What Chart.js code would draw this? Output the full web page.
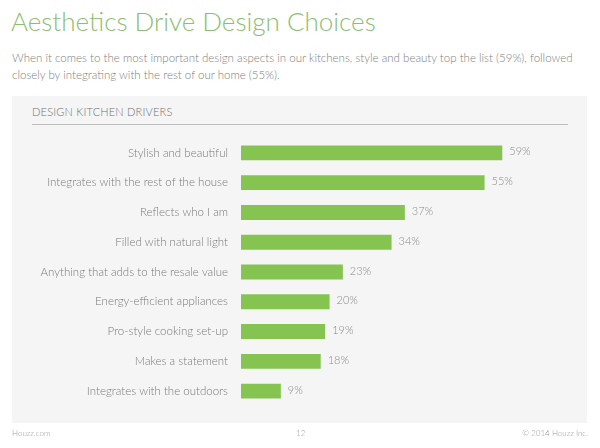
<!DOCTYPE html>
<html><head><meta charset="utf-8">
<script src="https://cdn.jsdelivr.net/npm/chart.js@4.4.0/dist/chart.umd.min.js"></script>
<style>
html,body{margin:0;padding:0;background:#fff;width:600px;height:448px;overflow:hidden;font-family:Lato,"Open Sans",sans-serif;}
#title{position:absolute;left:11px;top:5px;font-size:26px;font-weight:300;color:#8cc070;white-space:nowrap;}
#sub{position:absolute;left:12px;top:49px;width:575px;font-size:11.5px;line-height:17px;color:#808080;font-weight:300;}
#panel{position:absolute;left:12px;top:96px;width:575px;height:327px;background:#f5f5f5;}
#ptitle{position:absolute;left:32px;top:105px;font-size:11px;color:#707070;letter-spacing:0.2px;font-weight:300;}
#pline{position:absolute;left:32px;top:124px;width:536px;height:1px;background:#bdbdbd;}
#c{position:absolute;left:0;top:0;}
.foot{position:absolute;top:428px;font-size:8px;color:#9a9a9a;font-weight:300;}
</style></head>
<body>
<div id="title">Aesthetics Drive Design Choices</div>
<div id="sub">When it comes to the most important design aspects in our kitchens, style and beauty top the list (59%), followed<br>closely by integrating with the rest of our home (55%).</div>
<div id="panel"></div>
<div id="ptitle">DESIGN KITCHEN DRIVERS</div>
<div id="pline"></div>
<canvas id="c" width="600" height="448"></canvas>
<div class="foot" style="left:12px">Houzz.com</div>
<div class="foot" style="left:296px">12</div>
<div class="foot" style="right:12px">© 2014 Houzz Inc.</div>
<script>
const categories = ["Stylish and beautiful","Integrates with the rest of the house","Reflects who I am","Filled with natural light","Anything that adds to the resale value","Energy-efficient appliances","Pro-style cooking set-up","Makes a statement","Integrates with the outdoors"];
const values = [59,55,37,34,23,20,19,18,9];
const valueLabels = values.map(v => v + "%");

const labelPlugin = {
  id: 'vlabels',
  afterDatasetsDraw(chart) {
    const ctx = chart.ctx;
    const meta = chart.getDatasetMeta(0);
    ctx.save();
    ctx.font = '300 11px Lato, "Open Sans", sans-serif';
    ctx.fillStyle = '#8a8a8a';
    ctx.textAlign = 'left';
    ctx.textBaseline = 'middle';
    meta.data.forEach((bar, i) => {
      ctx.fillText(valueLabels[i], bar.x + 7, bar.y - 1);
    });
    ctx.restore();
  }
};

new Chart(document.getElementById('c'), {
  type: 'bar',
  data: {
    labels: categories,
    datasets: [{
      data: values,
      backgroundColor: '#86c452',
      borderWidth: 0,
      barPercentage: 0.5,
      categoryPercentage: 1.0
    }]
  },
  options: {
    indexAxis: 'y',
    responsive: false,
    animation: false,
    devicePixelRatio: 1,
    layout: { padding: { top: 138, bottom: 42, left: 0, right: 49 } },
    plugins: { legend: { display: false }, tooltip: { enabled: false }, title: { display: false } },
    scales: {
      x: { display: false, min: 0, max: 70 },
      y: {
        afterFit(scale) { scale.width = 241; },
        grid: { display: false, drawTicks: false },
        border: { display: false },
        ticks: { padding: 13, color: '#7a7a7a', font: { family: 'Lato, "Open Sans", sans-serif', size: 11.5, weight: '300' } }
      }
    }
  },
  plugins: [labelPlugin]
});
</script>
</body></html>
